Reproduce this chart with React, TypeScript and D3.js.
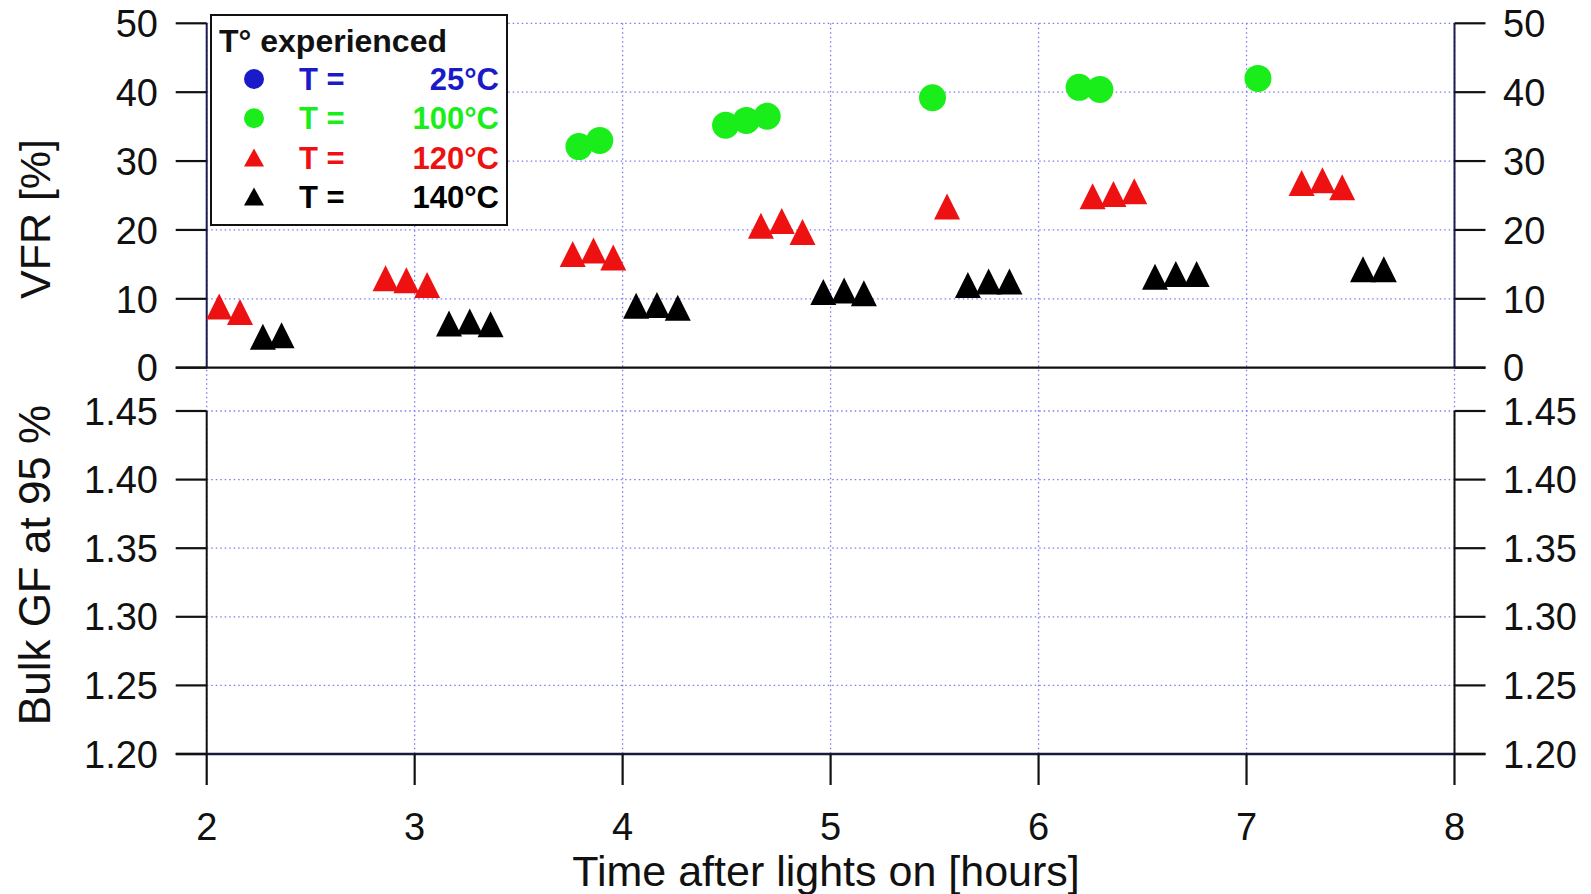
import React from "react";
import * as d3 from "d3";

// ---- data ----
const xTicks = [2, 3, 4, 5, 6, 7, 8];
const vfrTicks = [0, 10, 20, 30, 40, 50];
const gfTicks = [1.2, 1.25, 1.3, 1.35, 1.4, 1.45];

const t100X = [3.79, 3.89, 4.495, 4.595, 4.695, 5.49, 6.195, 6.295, 7.055];
const t100Y = [32.1, 33.0, 35.2, 35.9, 36.5, 39.2, 40.7, 40.4, 42.0];

const t120X = [2.06, 2.16, 2.86, 2.96, 3.06, 3.76, 3.86, 3.955, 4.665, 4.765, 4.865, 5.56, 6.26, 6.36, 6.46, 7.265, 7.365, 7.46];
const t120Y = [8.9, 8.1, 13.0, 12.7, 12.0, 16.5, 17.0, 16.0, 20.6, 21.3, 19.7, 23.4, 24.9, 25.2, 25.6, 26.8, 27.2, 26.2];

const t140X = [2.27, 2.36, 3.165, 3.265, 3.365, 4.065, 4.165, 4.265, 4.965, 5.065, 5.16, 5.66, 5.76, 5.86, 6.56, 6.66, 6.76, 7.56, 7.66];
const t140Y = [4.5, 4.7, 6.4, 6.7, 6.3, 9.0, 9.1, 8.7, 11.0, 11.2, 10.8, 12.0, 12.5, 12.5, 13.2, 13.6, 13.6, 14.3, 14.3];

const legendLabels = ["25°C", "100°C", "120°C", "140°C"];
const legendColors = ["#1a1ac8", "#1aee1a", "#ee1111", "#000000"];
const legendShapes = ["circle", "circle", "triangle", "triangle"];

// ---- layout ----
const W = 1591;
const H = 894;
const FONT = "'Liberation Sans', Arial, Helvetica, sans-serif";
const GRID = "#7b7bf0";
const AXIS_TOP = "#1c1c50";

const x = d3.scaleLinear().domain([2, 8]).range([206.7, 1454.5]);
const yTop = d3.scaleLinear().domain([0, 50]).range([367.7, 23.3]);
const yBot = d3.scaleLinear().domain([1.2, 1.45]).range([754, 411]);

const TICK = 31;
const triPath = (s: number, h: number) => `M0,${-h / 2}L${s / 2},${h / 2}L${-s / 2},${h / 2}Z`;

export default function App() {
  const xL = x(2);
  const xR = x(8);
  const tickFont = 38;

  const series = [
    { xs: t100X, ys: t100Y, color: legendColors[1], shape: "circle" },
    { xs: t120X, ys: t120Y, color: legendColors[2], shape: "triangle" },
    { xs: t140X, ys: t140Y, color: legendColors[3], shape: "triangle" },
  ];

  return (
    <svg
      width={W}
      height={H}
      style={{ position: "absolute", left: 0, top: 0, background: "#fff" }}
      fontFamily={FONT}
    >
      <rect x={0} y={0} width={W} height={H} fill="#fff" />
      {/* vertical gridlines */}
      {xTicks.map((t) => (
        <line key={"vg" + t} x1={x(t)} x2={x(t)} y1={yTop(50)} y2={yBot(1.2)}
          stroke={GRID} strokeWidth={1.3} strokeDasharray="1.5,3" />
      ))}
      {/* horizontal gridlines top */}
      {vfrTicks.filter((t) => t > 0).map((t) => (
        <line key={"hg" + t} x1={xL} x2={xR} y1={yTop(t)} y2={yTop(t)}
          stroke={GRID} strokeWidth={1.3} strokeDasharray="1.5,3" />
      ))}
      {/* horizontal gridlines bottom */}
      {gfTicks.filter((t) => t > 1.2).map((t) => (
        <line key={"hb" + t} x1={xL} x2={xR} y1={yBot(t)} y2={yBot(t)}
          stroke={GRID} strokeWidth={1.3} strokeDasharray="1.5,3" />
      ))}

      {/* top panel axes */}
      <line x1={xL} x2={xL} y1={yTop(50)} y2={yTop(0)} stroke={AXIS_TOP} strokeWidth={2} />
      <line x1={xR} x2={xR} y1={yTop(50)} y2={yTop(0)} stroke={AXIS_TOP} strokeWidth={2} />
      <line x1={xL - TICK} x2={xR + TICK} y1={yTop(0)} y2={yTop(0)} stroke="#111" strokeWidth={2.2} />
      {vfrTicks.map((t) => (
        <g key={"vt" + t}>
          <line x1={xL - TICK} x2={xL} y1={yTop(t)} y2={yTop(t)} stroke="#111" strokeWidth={2.2} />
          <line x1={xR} x2={xR + TICK} y1={yTop(t)} y2={yTop(t)} stroke="#111" strokeWidth={2.2} />
          <text x={158} y={yTop(t)} dy="0.36em" textAnchor="end" fontSize={tickFont} fill="#111">{t}</text>
          <text x={1503} y={yTop(t)} dy="0.36em" textAnchor="start" fontSize={tickFont} fill="#111">{t}</text>
        </g>
      ))}

      {/* bottom panel axes */}
      <line x1={xL} x2={xL} y1={yBot(1.45)} y2={yBot(1.2)} stroke="#111" strokeWidth={2} />
      <line x1={xR} x2={xR} y1={yBot(1.45)} y2={yBot(1.2)} stroke="#111" strokeWidth={2} />
      <line x1={xL - TICK} x2={xR + TICK} y1={yBot(1.2)} y2={yBot(1.2)} stroke="#1a1a3a" strokeWidth={2.6} />
      {gfTicks.map((t) => (
        <g key={"gt" + t}>
          <line x1={xL - TICK} x2={xL} y1={yBot(t)} y2={yBot(t)} stroke="#111" strokeWidth={2.2} />
          <line x1={xR} x2={xR + TICK} y1={yBot(t)} y2={yBot(t)} stroke="#111" strokeWidth={2.2} />
          <text x={158} y={yBot(t)} dy="0.36em" textAnchor="end" fontSize={tickFont} fill="#111">{d3.format(".2f")(t)}</text>
          <text x={1503} y={yBot(t)} dy="0.36em" textAnchor="start" fontSize={tickFont} fill="#111">{d3.format(".2f")(t)}</text>
        </g>
      ))}
      {xTicks.map((t) => (
        <g key={"xt" + t}>
          <line x1={x(t)} x2={x(t)} y1={yBot(1.2)} y2={yBot(1.2) + TICK} stroke="#111" strokeWidth={2.2} />
          <text x={x(t)} y={840} textAnchor="middle" fontSize={tickFont} fill="#111">{t}</text>
        </g>
      ))}

      {/* axis titles */}
      <text transform={`translate(50,219) rotate(-90)`} textAnchor="middle" fontSize={43} fill="#111">VFR [%]</text>
      <text transform={`translate(50,565) rotate(-90)`} textAnchor="middle" fontSize={44} fill="#111">Bulk GF at 95 %</text>
      <text x={826} y={886} textAnchor="middle" fontSize={43} fill="#111">Time after lights on [hours]</text>

      {/* data */}
      {series.map((s, si) =>
        s.xs.map((xv, i) =>
          s.shape === "circle" ? (
            <circle key={si + "-" + i} cx={x(xv)} cy={yTop(s.ys[i])} r={13.5} fill={s.color} />
          ) : (
            <path key={si + "-" + i} transform={`translate(${x(xv)},${yTop(s.ys[i])})`} d={triPath(26, 26)} fill={s.color} />
          )
        )
      )}

      {/* legend */}
      <rect x={211} y={15} width={296} height={210} fill="#fff" stroke="#111" strokeWidth={2} />
      <text x={219} y={51.5} fontSize={32} fontWeight="bold" fill="#111">T° experienced</text>
      {legendLabels.map((lab, i) => {
        const cy = 79 + i * 39.2;
        return (
          <g key={"lg" + i}>
            {legendShapes[i] === "circle" ? (
              <circle cx={254} cy={cy} r={10} fill={legendColors[i]} />
            ) : (
              <path transform={`translate(254,${cy})`} d={triPath(20, 18)} fill={legendColors[i]} />
            )}
            <text x={299} y={cy} dy="0.36em" fontSize={31} fontWeight="bold" fill={legendColors[i]}>T =</text>
            <text x={499} y={cy} dy="0.36em" textAnchor="end" fontSize={31} fontWeight="bold" fill={legendColors[i]}>{lab}</text>
          </g>
        );
      })}
    </svg>
  );
}
